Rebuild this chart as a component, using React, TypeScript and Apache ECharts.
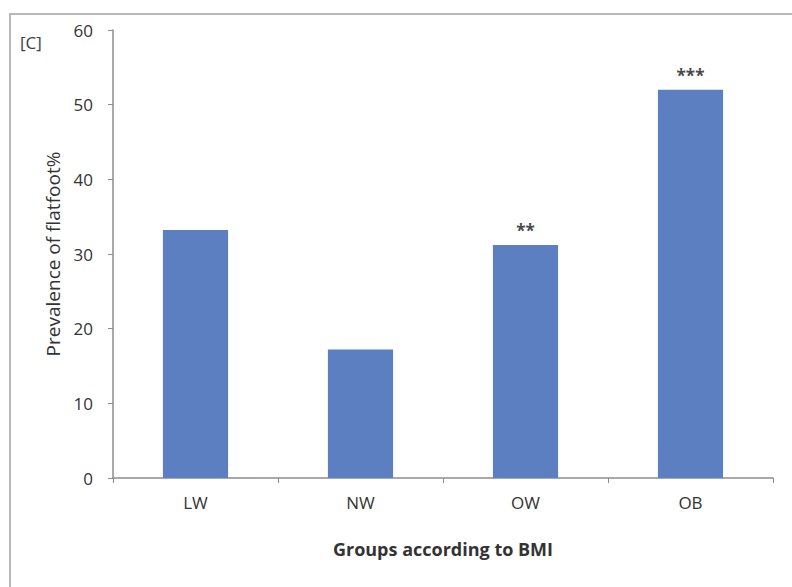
import React, { useEffect, useRef } from "react";
import * as echarts from "echarts";

const categories = ["LW", "NW", "OW", "OB"];
const prevalence = [33.2, 17.2, 31.2, 52.0];
const significance = ["", "", "**", "***"];
const yTicks = { min: 0, max: 60, interval: 10 };

export default function App() {
  const ref = useRef<HTMLDivElement>(null);
  useEffect(() => {
    const chart = echarts.init(ref.current!, null, { renderer: "svg" });
    const font = "'Open Sans', Lato, sans-serif";
    chart.setOption({
      animation: false,
      backgroundColor: "#ffffff",
      textStyle: { fontFamily: font },
      graphic: [
        {
          type: "rect",
          shape: { x: 10, y: 14, width: 820, height: 620 },
          style: { fill: "none", stroke: "#b8b8b8", lineWidth: 2 },
          silent: true,
        },
        {
          type: "text",
          left: 20,
          top: 34,
          style: { text: "[C]", fontSize: 17, fill: "#404040", fontFamily: font },
        },
      ],
      grid: { left: 113, right: 19, top: 30, bottom: 109 },
      xAxis: {
        type: "category",
        data: categories,
        name: "Groups according to BMI",
        nameLocation: "middle",
        nameGap: 62,
        nameTextStyle: { fontSize: 18, fontWeight: "bold", color: "#333", fontFamily: font },
        axisLine: { lineStyle: { color: "#8c8c8c", width: 1.5 } },
        axisTick: { show: true, length: 5, lineStyle: { color: "#8c8c8c" } },
        axisLabel: { fontSize: 17, color: "#333", margin: 16, fontFamily: font },
      },
      yAxis: {
        type: "value",
        min: yTicks.min,
        max: yTicks.max,
        interval: yTicks.interval,
        name: "Prevalence of flatfoot%",
        nameLocation: "middle",
        nameGap: 45,
        nameTextStyle: { fontSize: 19, color: "#333", fontFamily: font },
        axisLine: { show: true, lineStyle: { color: "#8c8c8c", width: 1.5 } },
        axisTick: { show: true, length: 5, lineStyle: { color: "#8c8c8c" } },
        splitLine: { show: false },
        axisLabel: { fontSize: 17, color: "#333", margin: 20, fontFamily: font },
      },
      series: [
        {
          type: "bar",
          data: prevalence,
          barWidth: "39.5%",
          itemStyle: { color: "#5b7fc0" },
          label: {
            show: true,
            position: "top",
            distance: 6,
            formatter: (p: any) => significance[p.dataIndex],
            fontSize: 17,
            fontWeight: "bold",
            color: "#4a4a4a",
            fontFamily: font,
          },
        },
      ],
    });
    return () => chart.dispose();
  }, []);
  return (
    <div
      ref={ref}
      style={{ position: "absolute", left: 0, top: 0, width: 792, height: 587 }}
    />
  );
}
